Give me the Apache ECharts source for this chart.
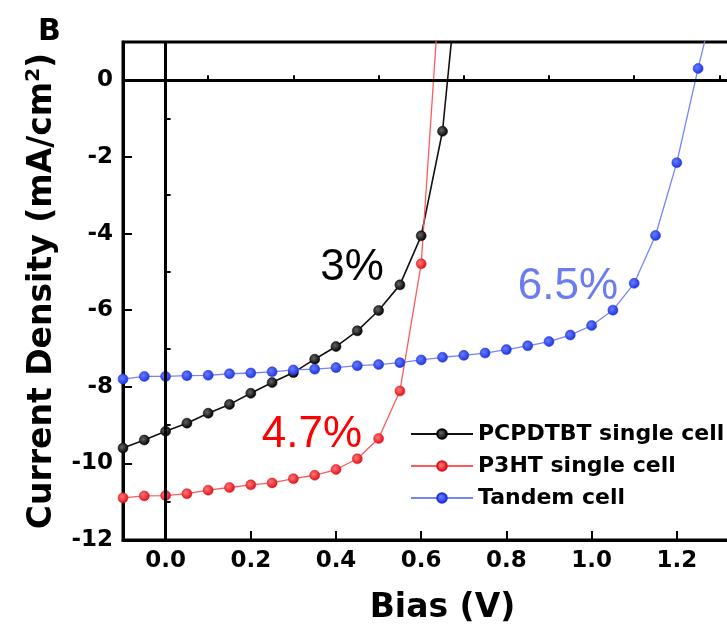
<!DOCTYPE html>
<html>
<head>
<meta charset="utf-8">
<script src="https://cdn.jsdelivr.net/npm/echarts@6/dist/echarts.min.js"></script>
<style>html,body{margin:0;padding:0;background:#fff}#c{width:727px;height:633px}</style>
</head>
<body>
<div id="c"></div>
<script>
// Bias (V) sample points
const voltage = [-0.10,-0.05,0.00,0.05,0.10,0.15,0.20,0.25,0.30,0.35,0.40,0.45,0.50,0.55,0.60,0.65,0.70,0.75,0.80,0.85,0.90,0.95,1.00,1.05,1.10,1.15,1.20,1.25,1.30];
// Current density (mA/cm^2)
const pcpdtbtJ = [-9.60,-9.39,-9.16,-8.95,-8.69,-8.46,-8.17,-7.89,-7.63,-7.28,-6.95,-6.54,-6.01,-5.34,-4.06,-1.33,4.3];
const p3htJ    = [-10.90,-10.85,-10.84,-10.79,-10.70,-10.63,-10.56,-10.51,-10.40,-10.31,-10.16,-9.88,-9.35,-8.11,-4.79,3.5];
const tandemJ  = [-7.80,-7.73,-7.73,-7.71,-7.70,-7.66,-7.64,-7.61,-7.56,-7.54,-7.50,-7.45,-7.42,-7.37,-7.30,-7.23,-7.18,-7.12,-7.03,-6.93,-6.82,-6.65,-6.40,-6.00,-5.30,-4.05,-2.15,0.31,2.6];
const seriesNames = ['PCPDTBT single cell','P3HT single cell','Tandem cell'];
const xMajorTicks = [0,0.2,0.4,0.6,0.8,1.0,1.2,1.4];
const xLabelValues = [0,0.2,0.4,0.6,0.8,1.0,1.2];
const xMinorTicks = [0.1,0.3,0.5,0.7,0.9,1.1,1.3];
const yMajorTicks = [-12,-10,-8,-6,-4,-2,0];
const yMinorTicks = [-11,-9,-7,-5,-3,-1];
const efficiencies = ['3%','4.7%','6.5%'];

const pair = (ys) => ys.map((y,i) => [voltage[i], y]);
const chart = echarts.init(document.getElementById('c'), null, {renderer:'canvas'});
const bold = 'DejaVu Sans';
const axisCommonX = {
  type:'value', min:-0.1, max:1.4, position:'bottom',
  axisLine:{show:true, onZero:false, lineStyle:{color:'#000', width:3}},
  splitLine:{show:false}
};
const axisCommonY = {
  type:'value', min:-12, max:1, position:'left',
  axisLine:{show:true, onZero:false, lineStyle:{color:'#000', width:3}},
  splitLine:{show:false}
};
function mkSeries(name, ys, lineColor, dotColor, lw){
  return {
    name, type:'line', data: pair(ys), clip:true,
    symbol:'circle', symbolSize:10, showAllSymbol:true,
    lineStyle:{color:lineColor, width:lw},
    itemStyle:{color:{type:'radial',x:0.4,y:0.4,r:0.6,colorStops:[{offset:0,color:dotColor[0]},{offset:1,color:dotColor[1]}]}, borderColor:dotColor[1], borderWidth:0.5},
    emphasis:{disabled:true}, z:3
  };
}
const option = {
  animation:false,
  backgroundColor:'#fff',
  grid:{left:123, top:42, bottom:93, width:639, show:true, borderColor:'#000', borderWidth:3, containLabel:false, outerBoundsMode:'none'},
  xAxis:[
    Object.assign({}, axisCommonX, {
      name:'Bias (V)', nameLocation:'middle', nameGap:52,
      nameTextStyle:{fontFamily:bold, fontWeight:'bold', fontSize:33, color:'#000'},
      axisTick:{show:true, inside:true, length:9, lineStyle:{width:2,color:'#000'}, customValues:xMajorTicks},
      axisLabel:{show:true, margin:10, fontFamily:bold, fontWeight:'bold', fontSize:23, color:'#000', customValues:xLabelValues, formatter:(v)=>v.toFixed(1)}
    }),
    Object.assign({}, axisCommonX, {
      axisLine:{show:false},
      axisTick:{show:true, inside:true, length:5, lineStyle:{width:2,color:'#000'}, customValues:xMinorTicks},
      axisLabel:{show:false}
    })
  ],
  yAxis:[
    Object.assign({}, axisCommonY, {
      name:'Current Density (mA/cm{sup|2})', nameLocation:'middle', nameGap:63,
      nameTextStyle:{fontFamily:bold, fontWeight:'bold', fontSize:33, color:'#000',
        rich:{sup:{fontFamily:bold, fontWeight:'bold', fontSize:20, verticalAlign:'top', padding:[0,0,16,0]}}},
      axisTick:{show:true, inside:true, length:9, lineStyle:{width:2,color:'#000'}, customValues:yMajorTicks},
      axisLabel:{show:true, margin:10, fontFamily:bold, fontWeight:'bold', fontSize:23, color:'#000', customValues:yMajorTicks}
    }),
    Object.assign({}, axisCommonY, {
      axisLine:{show:false},
      axisTick:{show:true, inside:true, length:5, lineStyle:{width:2,color:'#000'}, customValues:yMinorTicks},
      axisLabel:{show:false}
    })
  ],
  legend:{
    orient:'vertical', left:405, top:418, itemWidth:62, itemHeight:12, itemGap:10,
    textStyle:{fontFamily:bold, fontWeight:'bold', fontSize:22, color:'#000'},
    data:seriesNames
  },
  series:[
    Object.assign(mkSeries(seriesNames[0], pcpdtbtJ, '#111', ['#666','#000'], 1.6), {
      markLine:{silent:true, symbol:'none', label:{show:false}, lineStyle:{color:'#000', width:3, type:'solid'},
        data:[{xAxis:0},{yAxis:0}]}
    }),
    mkSeries(seriesNames[1], p3htJ, '#ff5a5a', ['#ff7a7a','#e0101a'], 1.3),
    mkSeries(seriesNames[2], tandemJ, '#7484ff', ['#6a7cff','#1f34e0'], 1.3)
  ],
  graphic:[
    {type:'text', left:38, top:17, style:{text:'B', font:'bold 30px "DejaVu Sans"', fill:'#000'}},
    {type:'text', x:352, y:268, style:{text:efficiencies[0], font:'44px "Liberation Sans"', fill:'#000', align:'center', verticalAlign:'middle'}},
    {type:'text', x:312, y:435, style:{text:efficiencies[1], font:'44px "Liberation Sans"', fill:'#ff0000', align:'center', verticalAlign:'middle'}},
    {type:'text', x:568, y:287, style:{text:efficiencies[2], font:'44px "Liberation Sans"', fill:'#6b7bf2', align:'center', verticalAlign:'middle'}}
  ]
};
chart.setOption(option);
</script>
</body>
</html>
